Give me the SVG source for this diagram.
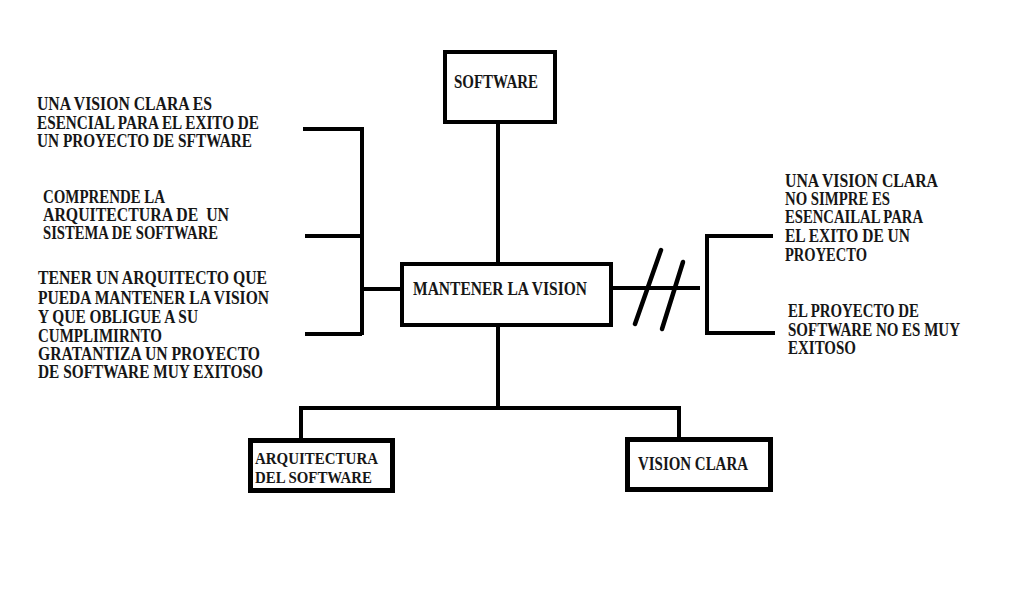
<svg xmlns="http://www.w3.org/2000/svg" width="1012" height="597" viewBox="0 0 1012 597">
<style>
.t{font-family:"Liberation Serif","Times New Roman",serif;font-weight:bold;font-size:18px;fill:#161616;white-space:pre}
.ts{font-size:17px}
.box{fill:#ffffff;stroke:#000000;stroke-width:4}
.boxb{fill:#ffffff;stroke:#000000;stroke-width:5}
.ln{fill:none;stroke:#000000;stroke-width:4;stroke-linecap:butt;stroke-linejoin:miter}
.sl{fill:none;stroke:#000000;stroke-width:4.5;stroke-linecap:round}
</style>
<rect x="0" y="0" width="1012" height="597" fill="#ffffff"/>
<g id="connectors">
<path class="ln" d="M498 124 V264"/>
<path class="ln" d="M498 325 V408"/>
<path class="ln" d="M301 440 V408 H679 V439"/>
<path class="ln" d="M303 129 H362 V335"/>
<path class="ln" d="M305 236 H362"/>
<path class="ln" d="M305 334 H362"/>
<path class="ln" d="M362 289 H402"/>
<path class="ln" d="M611 288 H700"/>
<path class="ln" d="M773 236 H707 V333 H775"/>
<path class="sl" d="M635 324 L661 250"/>
<path class="sl" d="M662 329 L683 262"/>
</g>
<g id="node-software">
<rect class="box" x="445" y="52" width="110" height="70"/>
<text class="t" x="454" y="88" textLength="84" lengthAdjust="spacingAndGlyphs">SOFTWARE</text>
</g>
<g id="node-mantener">
<rect class="box" x="402" y="264" width="209" height="61"/>
<text class="t" x="413" y="295" textLength="174" lengthAdjust="spacingAndGlyphs">MANTENER LA VISION</text>
</g>
<g id="node-arquitectura">
<rect class="boxb" x="250.5" y="440.5" width="142" height="50"/>
<text class="t ts" x="255" y="464" textLength="123" lengthAdjust="spacingAndGlyphs">ARQUITECTURA</text>
<text class="t ts" x="255" y="483" textLength="117" lengthAdjust="spacingAndGlyphs">DEL SOFTWARE</text>
</g>
<g id="node-vision-clara">
<rect class="boxb" x="627.5" y="439.5" width="143" height="50"/>
<text class="t" x="638" y="470" textLength="110" lengthAdjust="spacingAndGlyphs">VISION CLARA</text>
</g>
<g id="node-left-1">
<text class="t" x="37" y="110" textLength="175" lengthAdjust="spacingAndGlyphs">UNA VISION CLARA ES</text>
<text class="t" x="37" y="129" textLength="222" lengthAdjust="spacingAndGlyphs">ESENCIAL PARA EL EXITO DE</text>
<text class="t" x="37" y="147" textLength="215" lengthAdjust="spacingAndGlyphs">UN PROYECTO DE SFTWARE</text>
</g>
<g id="node-left-2">
<text class="t" x="43" y="203" textLength="122" lengthAdjust="spacingAndGlyphs">COMPRENDE LA</text>
<text class="t" x="43" y="221" textLength="186" lengthAdjust="spacingAndGlyphs">ARQUITECTURA DE  UN</text>
<text class="t" x="43" y="239" textLength="175" lengthAdjust="spacingAndGlyphs">SISTEMA DE SOFTWARE</text>
</g>
<g id="node-left-3">
<text class="t" x="38" y="284" textLength="229" lengthAdjust="spacingAndGlyphs">TENER UN ARQUITECTO QUE</text>
<text class="t" x="38" y="304" textLength="231" lengthAdjust="spacingAndGlyphs">PUEDA MANTENER LA VISION</text>
<text class="t" x="38" y="323" textLength="160" lengthAdjust="spacingAndGlyphs">Y QUE OBLIGUE A SU</text>
<text class="t" x="38" y="342" textLength="124" lengthAdjust="spacingAndGlyphs">CUMPLIMIRNTO</text>
<text class="t" x="38" y="360" textLength="222" lengthAdjust="spacingAndGlyphs">GRATANTIZA UN PROYECTO</text>
<text class="t" x="38" y="378" textLength="225" lengthAdjust="spacingAndGlyphs">DE SOFTWARE MUY EXITOSO</text>
</g>
<g id="node-right-1">
<text class="t" x="785" y="187" textLength="153" lengthAdjust="spacingAndGlyphs">UNA VISION CLARA</text>
<text class="t" x="785" y="205" textLength="105" lengthAdjust="spacingAndGlyphs">NO SIMPRE ES</text>
<text class="t" x="785" y="223" textLength="138" lengthAdjust="spacingAndGlyphs">ESENCAILAL PARA</text>
<text class="t" x="785" y="242" textLength="125" lengthAdjust="spacingAndGlyphs">EL EXITO DE UN</text>
<text class="t" x="785" y="261" textLength="82" lengthAdjust="spacingAndGlyphs">PROYECTO</text>
</g>
<g id="node-right-2">
<text class="t" x="788" y="317" textLength="131" lengthAdjust="spacingAndGlyphs">EL PROYECTO DE</text>
<text class="t" x="788" y="336" textLength="172" lengthAdjust="spacingAndGlyphs">SOFTWARE NO ES MUY</text>
<text class="t" x="788" y="354" textLength="68" lengthAdjust="spacingAndGlyphs">EXITOSO</text>
</g>
</svg>
